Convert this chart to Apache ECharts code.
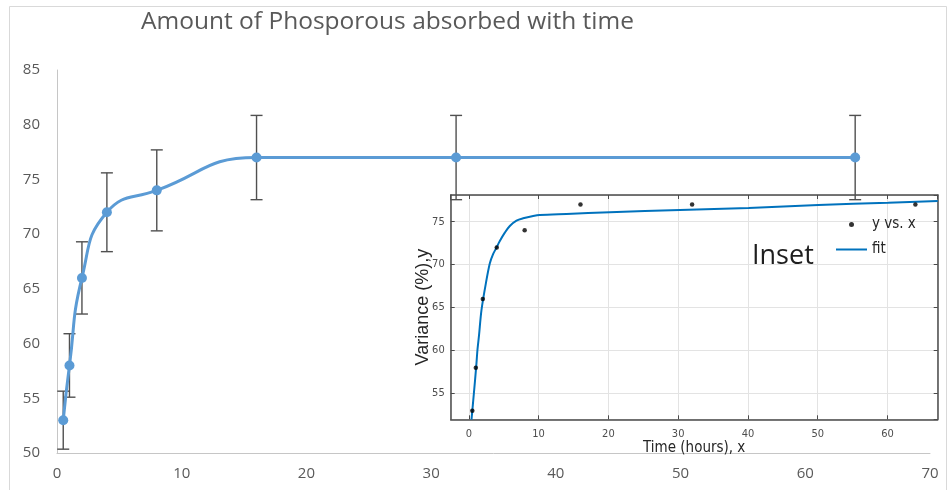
<!DOCTYPE html>
<html>
<head>
<meta charset="utf-8">
<script src="https://cdn.jsdelivr.net/npm/echarts@6/dist/echarts.min.js"></script>
<style>
  html, body { margin: 0; padding: 0; background: #ffffff; }
  #chart { width: 951px; height: 490px; }
</style>
</head>
<body>
<div id="chart"></div>
<script>
// ---- Data ----
const chartTitle = 'Amount of Phosporous absorbed with time';
// main chart
const timeHours = [0.5, 1, 2, 4, 8, 16, 32, 64];
const absorbed = [53, 58, 66, 72, 74, 77, 77, 77];
const errorAmount = [2.65, 2.9, 3.3, 3.6, 3.7, 3.85, 3.85, 3.85];
// inset: measured points
const insetTime = [0.5, 1, 2, 4, 8, 16, 32, 64];
const insetVariance = [53, 58, 66, 72, 74, 77, 77, 77];
// inset: fitted curve
const fitTime = [0.38, 0.72, 1.05, 1.24, 1.45, 1.81, 2.44, 3.01, 3.49, 3.96, 4.44, 5.16, 5.87, 6.83, 7.78, 9.22, 10.17, 13.99, 20.2, 30.23, 40.1, 50.1, 60.1, 67.2];
const fitVariance = [51.97, 55.0, 58.07, 60.12, 61.7, 64.71, 67.82, 70.15, 71.24, 71.97, 72.75, 73.72, 74.5, 75.12, 75.39, 75.66, 75.78, 75.9, 76.09, 76.36, 76.6, 76.95, 77.2, 77.4];
// axis ranges
const mainX = { min: 0, max: 70, step: 10 };
const mainY = { min: 50, max: 85, step: 5 };
const insetXRange = { min: -2.6, max: 67.2 };
const insetYRange = { min: 52, max: 78.1 };
const insetXName = 'Time (hours), x';
const insetYName = 'Variance (%),y';
const insetLabel = 'Inset';
const legendPoints = 'y vs. x';
const legendFit = 'fit';

// ---- helpers ----
function fitFont(text, family, targetWidth) {
  const c = document.createElement('canvas').getContext('2d');
  c.font = '100px ' + family;
  const w = c.measureText(text).width;
  return Math.round(100 * targetWidth / w * 10) / 10;
}
const titleFamily = "'Open Sans', Lato, sans-serif";
const titleSize = fitFont(chartTitle, titleFamily, 493);
const narrow = "'Liberation Sans Narrow', 'Arial Narrow', 'DejaVu Sans Condensed', 'Liberation Sans', sans-serif";
const plain = "'Liberation Sans', Arial, sans-serif";
const excelFont = "'Open Sans', Lato, sans-serif";

const mainLineData = timeHours.map((t, i) => [t, absorbed[i]]);
const errData = timeHours.map((t, i) => [t, absorbed[i] - errorAmount[i], absorbed[i] + errorAmount[i]]);
const insetPts = insetTime.map((t, i) => [t, insetVariance[i]]);
const fitData = fitTime.map((t, i) => [t, fitVariance[i]]);

const boxColor = '#4a4a4a';
const chart = echarts.init(document.getElementById('chart'), null, { renderer: 'canvas' });
chart.setOption({
  animation: false,
  backgroundColor: '#ffffff',
  title: {
    text: chartTitle,
    left: 141, top: 25 - titleSize * 0.62, padding: 0,
    textStyle: { fontFamily: titleFamily, fontSize: titleSize, fontWeight: 'normal', color: '#595959' }
  },
  legend: {
    orient: 'vertical', left: 831, top: 212,
    itemWidth: 31, itemHeight: 5, itemGap: 10,
    data: [
      { name: legendPoints, icon: 'circle' },
      { name: legendFit, icon: 'path://M0 0H31V2H0Z' }
    ],
    textStyle: { fontFamily: narrow, fontSize: 15, color: '#262626' }
  },
  grid: [
    { left: 57, right: 21, top: 70, bottom: 37 },
    { left: 450.7, top: 195, width: 487, height: 224.3 }
  ],
  xAxis: [
    {
      gridIndex: 0, type: 'value', min: mainX.min, max: mainX.max, interval: mainX.step,
      axisLine: { show: true, lineStyle: { color: '#c6c6c6', width: 1 } },
      axisTick: { show: false }, splitLine: { show: false },
      axisLabel: { color: '#595959', fontSize: 15, margin: 13, fontFamily: excelFont }
    },
    {
      gridIndex: 1, type: 'value', min: insetXRange.min, max: insetXRange.max, splitNumber: 7, position: 'bottom',
      axisLine: { show: true, onZero: false, lineStyle: { color: boxColor, width: 1.5 } },
      axisTick: { show: true, inside: true, length: 4, lineStyle: { color: boxColor } },
      axisLabel: { color: '#4d4d4d', fontSize: 11, margin: 9, fontFamily: narrow, showMinLabel: false, showMaxLabel: false },
      splitLine: { show: true, lineStyle: { color: '#e3e3e3', width: 1 } },
      name: insetXName, nameLocation: 'middle', nameGap: 21, nameMoveOverlap: false,
      nameTextStyle: { fontFamily: narrow, fontSize: 15, color: '#262626' }
    },
    {
      gridIndex: 1, type: 'value', min: insetXRange.min, max: insetXRange.max, splitNumber: 7, position: 'top',
      axisLine: { show: true, onZero: false, lineStyle: { color: boxColor, width: 1.5 } },
      axisTick: { show: true, inside: true, length: 4, lineStyle: { color: boxColor } },
      axisLabel: { show: false }, splitLine: { show: false }
    }
  ],
  yAxis: [
    {
      gridIndex: 0, type: 'value', min: mainY.min, max: mainY.max, interval: mainY.step,
      axisLine: { show: true, lineStyle: { color: '#c6c6c6', width: 1 } },
      axisTick: { show: false }, splitLine: { show: false },
      axisLabel: { color: '#595959', fontSize: 15, margin: 17, fontFamily: excelFont }
    },
    {
      gridIndex: 1, type: 'value', min: insetYRange.min, max: insetYRange.max, splitNumber: 5, position: 'left',
      axisLine: { show: true, onZero: false, lineStyle: { color: boxColor, width: 1.5 } },
      axisTick: { show: true, inside: true, length: 4, lineStyle: { color: boxColor } },
      axisLabel: { color: '#4d4d4d', fontSize: 11, margin: 6, fontFamily: narrow, showMinLabel: false, showMaxLabel: false },
      splitLine: { show: true, lineStyle: { color: '#e3e3e3', width: 1 } },
      name: insetYName, nameLocation: 'middle', nameGap: 19, nameRotate: 90, nameMoveOverlap: false,
      nameTextStyle: { fontFamily: plain, fontSize: 18, color: '#262626' }
    },
    {
      gridIndex: 1, type: 'value', min: insetYRange.min, max: insetYRange.max, splitNumber: 5, position: 'right',
      axisLine: { show: true, onZero: false, lineStyle: { color: boxColor, width: 1.5 } },
      axisTick: { show: true, inside: true, length: 4, lineStyle: { color: boxColor } },
      axisLabel: { show: false }, splitLine: { show: false }
    }
  ],
  graphic: [
    {
      type: 'rect', silent: true, z: -1,
      shape: { x: 9.5, y: 6.5, width: 937, height: 500 },
      style: { fill: 'none', stroke: '#d9d9d9', lineWidth: 1 }
    },
    {
      type: 'text', left: 752, top: 243, silent: true,
      style: { text: insetLabel, font: "27px 'Open Sans', Lato, sans-serif", fill: '#1e1e1e' }
    }
  ],
  series: [
    {
      name: 'errors', type: 'custom', xAxisIndex: 0, yAxisIndex: 0, z: 2, clip: false,
      data: errData,
      encode: { x: 0, y: [1, 2] },
      renderItem: function (params, api) {
        const x = api.value(0), lo = api.value(1), hi = api.value(2);
        const a = api.coord([x, lo]), b = api.coord([x, hi]);
        const hw = 6;
        const st = { stroke: '#505050', lineWidth: 1.4 };
        return {
          type: 'group', children: [
            { type: 'line', shape: { x1: a[0], y1: a[1], x2: b[0], y2: b[1] }, style: st },
            { type: 'line', shape: { x1: a[0] - hw, y1: a[1], x2: a[0] + hw, y2: a[1] }, style: st },
            { type: 'line', shape: { x1: b[0] - hw, y1: b[1], x2: b[0] + hw, y2: b[1] }, style: st }
          ]
        };
      }
    },
    {
      name: 'absorbed', type: 'line', xAxisIndex: 0, yAxisIndex: 0, z: 3,
      data: mainLineData, smooth: true,
      symbol: 'circle', symbolSize: 10,
      lineStyle: { color: '#5b9bd5', width: 3 },
      itemStyle: { color: '#5b9bd5' }
    },
    {
      name: legendFit, type: 'line', xAxisIndex: 1, yAxisIndex: 1, z: 4,
      data: fitData, smooth: 0.3, symbol: 'none', showSymbol: false,
      lineStyle: { color: '#0072bd', width: 2 },
      itemStyle: { color: '#0072bd' }
    },
    {
      name: legendPoints, type: 'scatter', xAxisIndex: 1, yAxisIndex: 1, z: 5,
      data: insetPts, symbol: 'circle', symbolSize: 4.5,
      itemStyle: { color: '#000000' }
    }
  ]
});
</script>
</body>
</html>
